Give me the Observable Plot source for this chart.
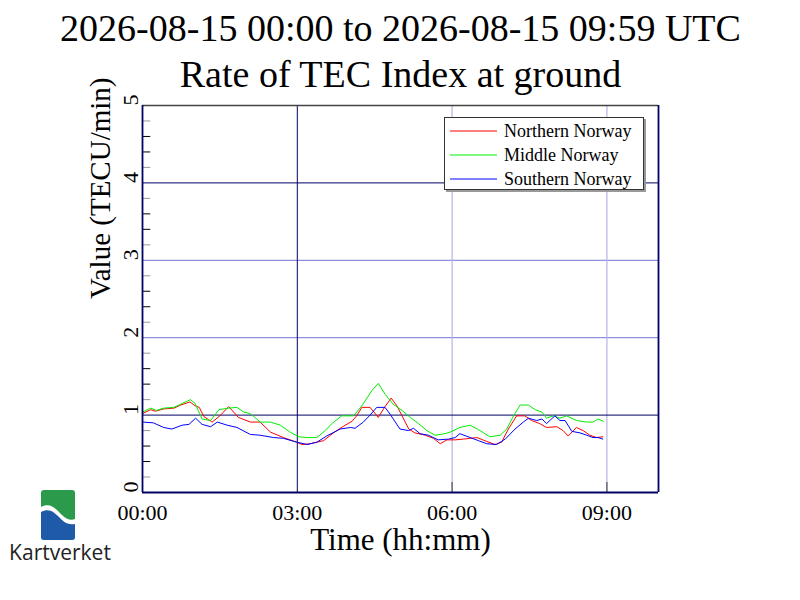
<!DOCTYPE html>
<html>
<head>
<meta charset="utf-8">
<script src="https://cdn.jsdelivr.net/npm/d3@7"></script>
<script src="https://cdn.jsdelivr.net/npm/@observablehq/plot@0.6"></script>
<style>
  html, body { margin: 0; padding: 0; background: white; }
  #wrap { position: relative; width: 800px; height: 600px; overflow: hidden; }
  #legend { position: absolute; left: 444px; top: 117px; width: 198px; height: 71px;
            border: 1px solid #333; background: white; box-shadow: 2px 2px 0 #999; }
  #logo { position: absolute; left: 0; top: 488px; width: 120px; height: 80px; }
</style>
</head>
<body>
<div id="wrap"></div>
<script>
// Time in hours since 00:00 UTC, values in TECU/min
const northT = [0.00,0.16,0.25,0.41,0.61,0.74,0.92,1.02,1.10,1.19,1.35,1.50,1.67,1.86,2.09,2.28,2.48,2.73,2.99,3.09,3.25,3.51,3.70,3.88,4.06,4.15,4.25,4.41,4.57,4.69,4.82,4.93,5.03,5.16,5.28,5.48,5.64,5.77,5.90,6.06,6.22,6.48,6.67,6.83,6.96,7.09,7.25,7.41,7.54,7.70,7.83,8.03,8.15,8.25,8.41,8.54,8.67,8.80,8.92];
const northV = [1.02,1.07,1.05,1.08,1.09,1.13,1.17,1.12,1.10,0.98,0.91,0.99,1.11,0.97,0.91,0.91,0.78,0.71,0.65,0.62,0.63,0.67,0.77,0.85,0.92,0.99,1.10,1.10,0.97,1.10,1.22,1.12,0.99,0.82,0.77,0.74,0.70,0.63,0.68,0.68,0.69,0.71,0.66,0.62,0.65,0.82,0.99,0.99,0.93,0.89,0.84,0.85,0.80,0.73,0.84,0.80,0.74,0.71,0.72];

const middleT = [0.00,0.16,0.27,0.41,0.61,0.77,0.93,1.02,1.155,1.32,1.48,1.67,1.83,1.96,2.09,2.28,2.48,2.67,2.86,3.03,3.19,3.38,3.54,3.67,3.86,4.09,4.25,4.45,4.57,4.70,4.86,5.03,5.19,5.35,5.51,5.67,5.86,5.96,6.15,6.35,6.54,6.73,6.93,7.06,7.19,7.32,7.48,7.61,7.74,7.83,7.96,8.09,8.22,8.41,8.61,8.73,8.83,8.93];
const middleV = [1.04,1.09,1.06,1.09,1.10,1.15,1.20,1.15,0.95,0.93,1.07,1.09,1.10,1.04,1.02,0.91,0.91,0.87,0.78,0.72,0.71,0.71,0.80,0.89,0.99,0.99,1.12,1.32,1.41,1.27,1.14,1.06,0.97,0.89,0.80,0.74,0.76,0.78,0.84,0.87,0.80,0.72,0.74,0.82,0.99,1.13,1.13,1.07,1.04,0.96,0.99,0.96,0.99,0.93,0.91,0.91,0.95,0.92];

const southT = [0.00,0.21,0.41,0.57,0.77,0.90,1.03,1.155,1.32,1.45,1.64,1.83,2.09,2.28,2.54,2.73,2.99,3.19,3.38,3.57,3.83,4.03,4.12,4.28,4.41,4.54,4.70,4.80,4.90,4.99,5.16,5.25,5.38,5.54,5.73,5.93,6.06,6.15,6.35,6.51,6.67,6.86,7.03,7.22,7.38,7.48,7.64,7.74,7.83,7.99,8.09,8.19,8.32,8.48,8.61,8.73,8.83,8.92];
const southV = [0.91,0.90,0.84,0.82,0.87,0.88,0.96,0.88,0.85,0.91,0.87,0.84,0.75,0.74,0.71,0.70,0.65,0.62,0.65,0.73,0.82,0.84,0.83,0.91,1.00,1.10,1.10,1.01,0.91,0.82,0.80,0.83,0.76,0.74,0.68,0.69,0.71,0.76,0.71,0.67,0.63,0.62,0.69,0.82,0.91,0.96,0.93,0.95,0.89,0.99,0.93,0.93,0.79,0.77,0.74,0.71,0.71,0.69];

const seriesNames = ["Northern Norway", "Middle Norway", "Southern Norway"];
const seriesColors = ["#ff0000", "#00ee00", "#0000ff"];

const xTickValues = [0, 3, 6, 9];
const xTickLabels = ["00:00", "03:00", "06:00", "09:00"];
const yTickValues = [0, 1, 2, 3, 4, 5];
const yMinorDark = [0.4, 0.6, 1.4, 1.6, 2.4, 2.6, 3.4, 3.6, 4.4, 4.6];
const yMinorLight = [0.2, 0.8, 1.2, 1.8, 2.2, 2.8, 3.2, 3.8, 4.2, 4.8];

const titleLine1 = "2026-08-15 00:00 to 2026-08-15 09:59 UTC";
const titleLine2 = "Rate of TEC Index at ground";
const xLabel = "Time (hh:mm)";
const yLabel = "Value (TECU/min)";

const toRows = (ts, vs) => ts.map((t, i) => ({t, v: vs[i]}));
const north = toRows(northT, northV);
const middle = toRows(middleT, middleV);
const south = toRows(southT, southV);

const serif = "'Liberation Serif', 'Times New Roman', serif";
const navy = "#000066";

const chart = Plot.plot({
  width: 800,
  height: 600,
  marginLeft: 142,
  marginRight: 142,
  marginTop: 105,
  marginBottom: 108,
  x: {domain: [0, 10], axis: null},
  y: {domain: [0, 5], axis: null},
  style: {background: "white", fontFamily: serif, color: "black"},
  marks: [
    // grid
    Plot.ruleY([2, 3], {stroke: "#7474d4", strokeWidth: 1}),
    Plot.ruleX([6, 9], {stroke: "#b4b4e6", strokeWidth: 1.2}),
    Plot.ruleY([1, 4], {stroke: navy, strokeWidth: 1}),
    Plot.ruleX([3], {stroke: navy, strokeWidth: 1}),
    // minor y ticks (inside)
    Plot.ruleY(yMinorLight, {x1: 0, x2: 0.16, stroke: "#999", strokeWidth: 1}),
    Plot.ruleY(yMinorDark, {x1: 0, x2: 0.16, stroke: "#000", strokeWidth: 1}),
    // x tick marks
    Plot.ruleX([6, 9], {y1: 0, y2: 0.13, stroke: "#555", strokeWidth: 1.2}),
    // data
    Plot.line(north, {x: "t", y: "v", stroke: seriesColors[0], strokeWidth: 1}),
    Plot.line(middle, {x: "t", y: "v", stroke: seriesColors[1], strokeWidth: 1}),
    Plot.line(south, {x: "t", y: "v", stroke: seriesColors[2], strokeWidth: 1}),
    // frame
    Plot.ruleY([5], {stroke: "#444", strokeWidth: 1.5}),
    Plot.ruleX([0, 10], {stroke: navy, strokeWidth: 1.8}),
    Plot.ruleY([0], {stroke: navy, strokeWidth: 1.8}),
    // tick labels
    Plot.text(yTickValues, {y: d => d, text: d => String(d), frameAnchor: "left", lineAnchor: "middle", dx: -12, rotate: -90, fontSize: 22, fill: "black"}),
    Plot.text(xTickValues, {x: d => d, text: (d, i) => xTickLabels[i], frameAnchor: "bottom", lineAnchor: "middle", dy: 20, fontSize: 22, fill: "black"}),
    // axis labels
    Plot.text([xLabel], {frameAnchor: "bottom", lineAnchor: "middle", dy: 48, fontSize: 31, fill: "black"}),
    Plot.text([yLabel], {frameAnchor: "left", lineAnchor: "middle", dx: -42, rotate: -90, fontSize: 29, fill: "black"}),
    // titles
    Plot.text([titleLine1], {frameAnchor: "top", lineAnchor: "middle", dy: -77, fontSize: 38, fill: "black"}),
    Plot.text([titleLine2], {frameAnchor: "top", lineAnchor: "middle", dy: -31, fontSize: 38, fill: "black"})
  ]
});

const wrap = document.getElementById("wrap");
wrap.appendChild(chart);

// Legend
const legend = document.createElement("div");
legend.id = "legend";
const rowsY = [13, 37, 61];
let lsvg = `<svg width="198" height="71" xmlns="http://www.w3.org/2000/svg" font-family="${serif}" font-size="18">`;
seriesNames.forEach((name, i) => {
  lsvg += `<line x1="5" x2="52" y1="${rowsY[i]}" y2="${rowsY[i]}" stroke="${seriesColors[i]}" stroke-width="1"/>`;
  lsvg += `<text x="59" y="${rowsY[i]}" dy="0.33em" fill="black">${name}</text>`;
});
lsvg += `</svg>`;
legend.innerHTML = lsvg;
wrap.appendChild(legend);

// Kartverket logo
const logo = document.createElement("div");
logo.id = "logo";
logo.innerHTML = `
<svg width="120" height="80" xmlns="http://www.w3.org/2000/svg">
  <defs><clipPath id="lc"><rect x="41" y="2" width="34" height="50" rx="3" ry="3"/></clipPath></defs>
  <g clip-path="url(#lc)">
    <rect x="41" y="2" width="34" height="50" fill="#2b9a4a"/>
    <path d="M41,19 C50,14 56,21 62,27 C66,31 71,33 75,31 L75,52 L41,52 Z" fill="white"/>
    <path d="M41,24 C50,19 56,26 62,32 C66,36 71,37 75,36 L75,52 L41,52 Z" fill="#1e5aa8"/>
  </g>
  <text x="60" y="72" text-anchor="middle" font-family="'Open Sans', 'Noto Sans', sans-serif" font-size="21" fill="#222">Kartverket</text>
</svg>`;
wrap.appendChild(logo);
</script>
</body>
</html>
